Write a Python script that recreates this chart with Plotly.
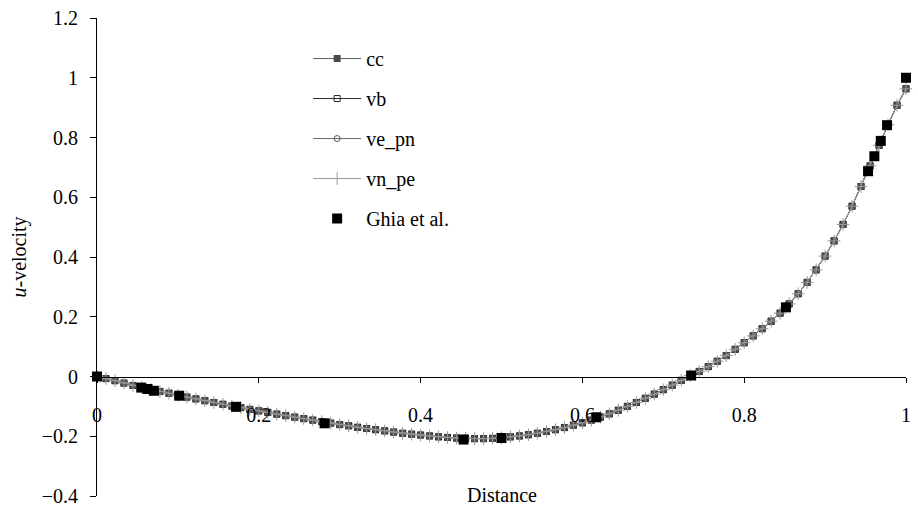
import plotly.graph_objects as go

# ---- data ----
x_grid = [0.0000, 0.0111, 0.0222, 0.0333, 0.0444, 0.0556, 0.0667, 0.0778, 0.0889, 0.1000,
          0.1111, 0.1222, 0.1333, 0.1444, 0.1556, 0.1667, 0.1778, 0.1889, 0.2000, 0.2111,
          0.2222, 0.2333, 0.2444, 0.2556, 0.2667, 0.2778, 0.2889, 0.3000, 0.3111, 0.3222,
          0.3333, 0.3444, 0.3556, 0.3667, 0.3778, 0.3889, 0.4000, 0.4111, 0.4222, 0.4333,
          0.4444, 0.4556, 0.4667, 0.4778, 0.4889, 0.5000, 0.5111, 0.5222, 0.5333, 0.5444,
          0.5556, 0.5667, 0.5778, 0.5889, 0.6000, 0.6111, 0.6222, 0.6333, 0.6444, 0.6556,
          0.6667, 0.6778, 0.6889, 0.7000, 0.7111, 0.7222, 0.7333, 0.7444, 0.7556, 0.7667,
          0.7778, 0.7889, 0.8000, 0.8111, 0.8222, 0.8333, 0.8444, 0.8556, 0.8667, 0.8778,
          0.8889, 0.9000, 0.9111, 0.9222, 0.9333, 0.9444, 0.9556, 0.9667, 0.9778, 0.9889,
          1.0000]

u_cc = [0.000, -0.007, -0.014, -0.022, -0.030, -0.037, -0.044, -0.050, -0.056, -0.063,
        -0.069, -0.075, -0.081, -0.087, -0.093, -0.099, -0.104, -0.110, -0.115, -0.120,
        -0.126, -0.131, -0.136, -0.141, -0.146, -0.151, -0.156, -0.161, -0.165, -0.170,
        -0.174, -0.178, -0.182, -0.186, -0.190, -0.193, -0.196, -0.199, -0.202, -0.204,
        -0.206, -0.207, -0.208, -0.208, -0.207, -0.205, -0.202, -0.199, -0.195, -0.190,
        -0.184, -0.178, -0.171, -0.163, -0.155, -0.146, -0.136, -0.125, -0.113, -0.100,
        -0.087, -0.073, -0.059, -0.044, -0.029, -0.013, 0.003, 0.017, 0.033, 0.051,
        0.070, 0.091, 0.113, 0.136, 0.160, 0.185, 0.212, 0.243, 0.277, 0.315,
        0.357, 0.403, 0.454, 0.509, 0.570, 0.636, 0.705, 0.774, 0.843, 0.908,
        0.963]
u_vb = list(u_cc)
u_ve_pn = list(u_cc)
u_vn_pe = list(u_cc)

ghia_y = [0.0000, 0.0547, 0.0625, 0.0703, 0.1016, 0.1719, 0.2813, 0.4531, 0.5000,
          0.6172, 0.7344, 0.8516, 0.9531, 0.9609, 0.9688, 0.9766, 1.0000]
ghia_u = [0.00000, -0.03717, -0.04192, -0.04775, -0.06434, -0.10150, -0.15662, -0.21090,
          -0.20581, -0.13641, 0.00332, 0.23151, 0.68717, 0.73722, 0.78871, 0.84123, 1.00000]

FONT = "Liberation Serif, Times New Roman, serif"
FS = 20

fig = go.Figure()

series = [
    ("cc", u_cc, dict(symbol="square", size=7, color="#4a4a4a"), "#606060"),
    ("vb", u_vb, dict(symbol="square-open", size=6, color="#2a2a2a", line=dict(width=1)), "#2a2a2a"),
    ("ve_pn", u_ve_pn, dict(symbol="circle-open", size=6, color="#5a5a5a", line=dict(width=1)), "#6a6a6a"),
    ("vn_pe", u_vn_pe, dict(symbol="cross-thin-open", size=9, color="#999999", line=dict(width=1)), "#9a9a9a"),
]
for i, (name, u, mk, lc) in enumerate(series):
    fig.add_trace(go.Scatter(
        x=x_grid, y=u, name=name, mode="lines+markers",
        line=dict(color=lc, width=1), marker=mk, cliponaxis=False,
        legendgroup=f"g{i}",
    ))

fig.add_trace(go.Scatter(
    x=ghia_y, y=ghia_u, name="Ghia et al.", mode="markers",
    marker=dict(symbol="square", size=10, color="black"), cliponaxis=False,
    legendgroup="g5",
))

fig.update_layout(
    width=918, height=514,
    margin=dict(l=97, r=7, t=15, b=13),
    paper_bgcolor="white", plot_bgcolor="white",
    font=dict(family=FONT, size=FS, color="black"),
    showlegend=True,
    legend=dict(x=0.261, y=0.956, xanchor="left", yanchor="top",
                bgcolor="rgba(0,0,0,0)", font=dict(family=FONT, size=FS),
                tracegroupgap=11, itemwidth=48),
    xaxis=dict(range=[0, 1], anchor="free", position=0.25,
               showline=True, linecolor="black", linewidth=1,
               ticks="outside", ticklen=5, tickcolor="black",
               tickvals=[0, 0.2, 0.4, 0.6, 0.8, 1.0],
               ticktext=["0", "0.2", "0.4", "0.6", "0.8", "1"],
               ticklabelstandoff=15,
               tickfont=dict(family=FONT, size=FS),
               showgrid=False, zeroline=False),
    yaxis=dict(range=[-0.4, 1.2], showline=True, linecolor="black", linewidth=1,
               ticks="outside", ticklen=6, tickcolor="black",
               tickvals=[-0.4, -0.2, 0, 0.2, 0.4, 0.6, 0.8, 1.0, 1.2],
               ticktext=["\u22120.4", "\u22120.2", "0", "0.2", "0.4", "0.6", "0.8", "1", "1.2"],
               ticklabelstandoff=8,
               tickfont=dict(family=FONT, size=FS),
               showgrid=False, zeroline=False),
    annotations=[
        dict(text="Distance", x=0.5, y=0.003, xref="paper", yref="paper",
             xanchor="center", yanchor="middle", showarrow=False,
             font=dict(family=FONT, size=FS)),
        dict(text="<i>u</i>-velocity", x=-0.097, y=0.5, xref="paper", yref="paper",
             xanchor="center", yanchor="middle", textangle=-90, showarrow=False,
             font=dict(family=FONT, size=FS)),
    ],
)

fig.write_html("out.html")
